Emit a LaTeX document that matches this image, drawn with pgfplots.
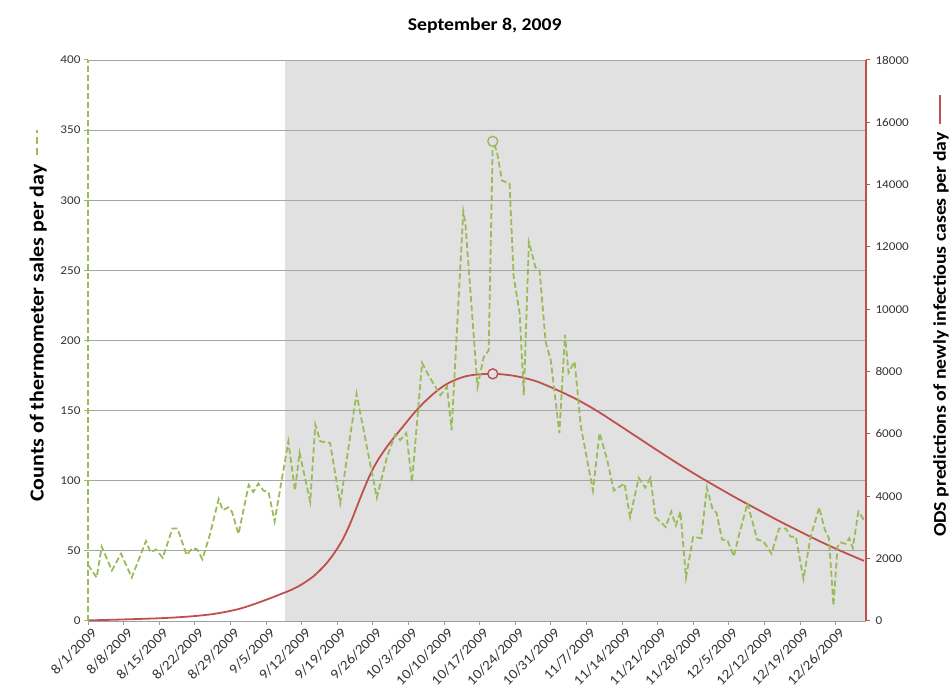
\documentclass[border=0pt]{standalone}
\usepackage{pgfplots}
\pgfplotsset{compat=1.18}
\usepackage{fontspec}
\setmainfont{Carlito}[FakeStretch=1.1]
\definecolor{xlgreen}{HTML}{9BBB59}
\definecolor{xlred}{HTML}{C0504D}
\definecolor{bandgrey}{HTML}{E1E1E1}
\definecolor{gridc}{HTML}{A6A6A6}
\definecolor{axc}{HTML}{A0A0A0}
\begin{document}
\begin{tikzpicture}[x=1bp,y=1bp]
\useasboundingbox (0,0) rectangle (952,698);
% ---------- right axis (drawn first: shaded band, grid, red curve)
\begin{axis}[
  at={(88bp,77bp)}, anchor=south west, scale only axis,
  width=778bp, height=561bp,
  xmin=0, xmax=153, ymin=0, ymax=18000,
  axis on top,
  hide x axis,
  axis y line*=right,
  ytick={0,2000,...,18000},
  y axis line style={draw=xlred, line width=1.8pt},
  ytick style={draw=xlred, line width=1pt},
  tick align=outside, major tick length=4bp,
  yticklabel style={font=\fontsize{12}{12}\selectfont, text=black!80, xshift=2bp},
  scaled y ticks=false,
  /pgf/number format/.cd, 1000 sep={}, assume math mode=true,
  /pgfplots/.cd,
  every axis y label/.style={at={(axis description cs:1.0964,0.545)}, rotate=90, anchor=center,
     font=\bfseries\fontsize{18}{18}\selectfont},
  ylabel={ODS predictions of newly infectious cases per day\hspace{8bp}\raisebox{0.28em}{\tikz\draw[xlred, line width=1.8pt] (0,0)--(29bp,0);}},
]
\fill[bandgrey] (axis cs:38.8,0) rectangle (axis cs:153,18000);
\pgfplotsinvokeforeach{2250,4500,6750,9000,11250,13500,15750,18000}{
  \draw[gridc, line width=0.8pt] (axis cs:0,#1) -- (axis cs:153,#1);
}
\addplot[xlred, line width=1.8pt, smooth, tension=0.5] coordinates {
(0,20) (5,40) (10,65) (15,95) (20,145) (24,210) (27,290) (30,400) (33,560) (36,740)
(38,870) (40,1000) (42,1170) (44,1390) (45,1530) (46,1690) (47,1870) (48,2080) (49,2320) (50,2590)
(51,2920) (52,3300) (53,3720) (54,4130) (55,4520) (56,4870) (57,5160) (58,5410) (59,5640)
(60,5850) (62,6250) (64,6650) (66,7000) (68,7300) (70,7550) (72,7720) (74,7840) (76,7900)
(78,7925) (79.6,7930) (81,7920) (84,7860) (88,7700) (92,7430) (96,7120) (100,6750)
(104,6330) (108,5900) (112,5470) (116,5050) (120,4650) (124,4270) (128,3900) (132,3550)
(136,3200) (140,2870) (144,2550) (148,2250) (152.6,1930)
};
\addplot[only marks, mark=*, mark size=5bp, draw=xlred, fill=bandgrey, line width=1.4pt] coordinates {(79.6,7930)};
\end{axis}
% ---------- left axis (green series, x axis, title)
\begin{axis}[
  at={(88bp,77bp)}, anchor=south west, scale only axis,
  width=778bp, height=561bp,
  xmin=0, xmax=153, ymin=0, ymax=400,
  axis y line*=left, axis x line*=bottom,
  xtick={0,7,...,147},
  xticklabels={8/1/2009,8/8/2009,8/15/2009,8/22/2009,8/29/2009,9/5/2009,9/12/2009,9/19/2009,9/26/2009,10/3/2009,10/10/2009,10/17/2009,10/24/2009,10/31/2009,11/7/2009,11/14/2009,11/21/2009,11/28/2009,12/5/2009,12/12/2009,12/19/2009,12/26/2009},
  x tick label style={rotate=45, anchor=north east, font=\fontsize{14}{14}\selectfont, text=black!80, xshift=4bp},
  x axis line style={draw=axc, line width=0.8pt},
  xtick style={draw=axc, line width=0.8pt},
  ytick={0,50,...,400},
  y axis line style={draw=xlgreen, line width=1.8pt, dash pattern=on 6bp off 3bp},
  ytick style={draw=xlgreen, line width=1pt, solid},
  yticklabel style={font=\fontsize{12}{12}\selectfont, text=black!80},
  tick align=outside, major tick length=4bp,
  /pgf/number format/assume math mode=true,
  every axis y label/.style={at={(axis description cs:-0.064,0.545)}, rotate=90, anchor=center,
     font=\bfseries\fontsize{20}{20}\selectfont},
  ylabel={Counts of thermometer sales per day\hspace{9bp}\raisebox{0.28em}{\tikz\draw[xlgreen, line width=1.8pt, dash pattern=on 7bp off 4bp] (0,0)--(25bp,0);}},
  title={September 8, 2009},
  title style={at={(axis description cs:0.51,1.05)}, anchor=center, font=\bfseries\fontsize{18}{18}\selectfont},
]
\addplot[xlgreen, line width=1.8pt, dash pattern=on 6bp off 3bp] coordinates {
(0,40) (1.7,31) (2.7,53) (4.7,36) (6.5,48) (8.6,31) (11.4,57) (12.3,49) (13.4,51) (14.7,45)
(16.6,66) (17.6,66) (19.4,47) (20.5,52) (21.5,51) (22.5,44) (24,62) (25.7,87) (26.5,79)
(27.6,81) (28.3,78) (29.6,62) (31.6,97) (32.5,92) (33.5,98) (34.5,93) (35.5,92) (36.7,71)
(39.4,128) (40.7,93) (41.6,120) (43.7,85) (44.7,140) (45.7,128) (47.6,127) (49.6,84)
(52.8,162) (56.8,88) (58.8,117) (60.4,133) (61.4,129) (62.6,134) (63.7,99) (65.7,184)
(67,175) (69.3,161) (70.6,167) (71.5,136) (73.8,292) (74.2,284) (76.6,167) (77.8,188)
(78.8,193) (79.6,342) (80.4,335) (81.4,314) (82.9,312) (83.7,246) (84.9,219) (85.7,161)
(86.7,270) (87.3,262) (88,252) (88.8,250) (90,199) (91,186) (92.7,134) (93.8,204)
(94.5,177) (95.7,185) (96.9,139) (99.3,93) (100.6,134) (102.1,115) (103.4,93) (105.5,98)
(106.6,74) (108.3,102) (109.6,95) (110.6,102) (111.6,74) (113.6,67) (114.7,78) (115.6,68)
(116.5,78) (117.6,31) (119,60) (120.6,59) (121.7,95) (122.8,80) (123.6,77) (124.7,58)
(125.7,58) (127,46) (128,61) (129.7,84) (131.6,58) (132.8,57) (134.4,48) (135.9,66)
(137.2,66) (138.2,60) (139.2,60) (140.7,30) (142.1,60) (143.8,81) (144.9,65) (145.7,59)
(146.6,11) (147.4,53) (148,56) (149,55) (149.7,59) (150.4,52) (151.5,78) (152.6,72)
};
\addplot[only marks, mark=*, mark size=5bp, draw=xlgreen, fill=bandgrey, line width=1.4pt] coordinates {(79.6,342)};
\end{axis}
\end{tikzpicture}
\end{document}
